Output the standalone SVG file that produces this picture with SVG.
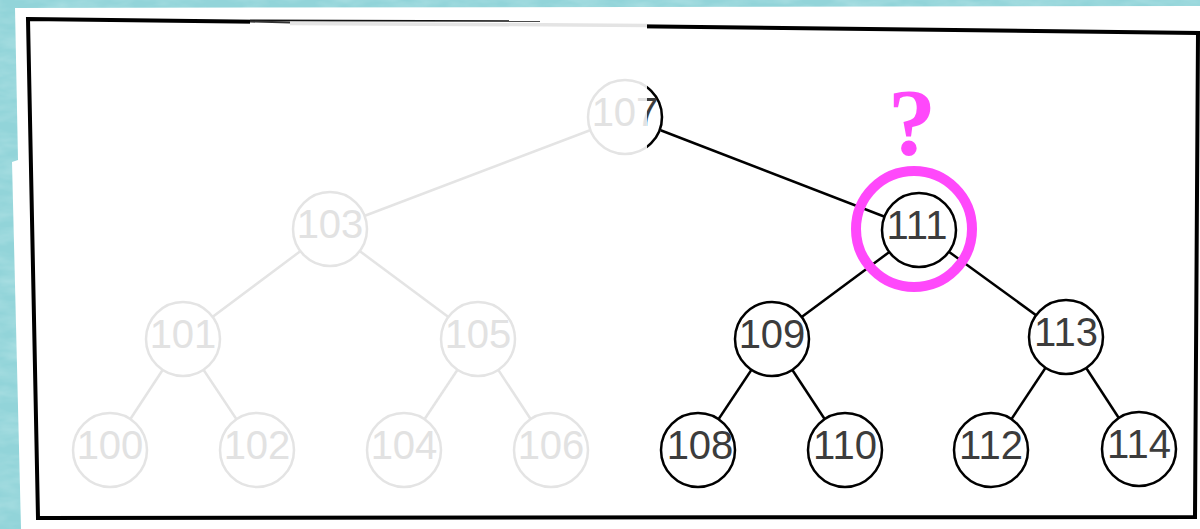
<svg xmlns="http://www.w3.org/2000/svg" width="1200" height="529" viewBox="0 0 1200 529">
  <defs>
    <filter id="tex" x="0" y="0" width="100%" height="100%">
      <feTurbulence type="fractalNoise" baseFrequency="0.03 0.09" numOctaves="3" seed="4" result="n"/>
      <feColorMatrix in="n" type="matrix" values="0 0 0 0 0.50  0 0 0 0 0.80  0 0 0 0 0.82  0 0 0 0.9 -0.3" result="c"/>
      <feComposite in="c" in2="SourceGraphic" operator="in"/>
    </filter>
    <clipPath id="rightHalf">
      <rect x="647" y="0" width="600" height="529"/>
    </clipPath>
    <style>
      .edge { stroke: #000; stroke-width: 2.5; fill: none; }
      .edge.faded { stroke: #e4e4e4; }
      .node circle { fill: #fff; stroke: #000; stroke-width: 2.5; }
      .node text { font-family: "Liberation Sans", Arial, sans-serif; font-size: 40px; fill: #3c3c3c; text-anchor: middle; }
      .faded circle { stroke: #e4e4e4; }
      .faded text { fill: #e2e2e2; }
      .pink { fill: none; stroke: #ff48fb; stroke-width: 10; }
    </style>
  </defs>

  <!-- textured teal background -->
  <rect x="0" y="0" width="1200" height="529" fill="#92d4d9"/>
  <rect x="0" y="0" width="1200" height="529" fill="#92d4d9" filter="url(#tex)"/>

  <!-- paper -->
  <polygon points="15,8 1200,6 1200,529 21,529 12,162 18,160" fill="#fff"/>

  <!-- frame -->
  <polygon points="28,19 1198,33 1195,517 38,518" fill="none" stroke="#000" stroke-width="4" stroke-linejoin="miter"/>
  <rect x="250" y="18" width="397" height="11" fill="#fff"/>
  <line x1="250" y1="20.4" x2="540" y2="21" stroke="#111" stroke-width="1.6"/>
  <line x1="250" y1="21.5" x2="290" y2="22.5" stroke="#333" stroke-width="2"/>
  <line x1="290" y1="23.4" x2="647" y2="25.4" stroke="#e4e4e4" stroke-width="3.5"/>

  <!-- connectors -->
  <g id="connectors">
    <line class="edge faded" x1="625" y1="117" x2="330" y2="229"/>
    <line class="edge" x1="647" y1="125" x2="919" y2="230"/>
    <line class="edge faded" x1="330" y1="229" x2="183" y2="339"/>
    <line class="edge faded" x1="330" y1="229" x2="478" y2="339"/>
    <line class="edge" x1="919" y1="230" x2="772" y2="339"/>
    <line class="edge" x1="919" y1="230" x2="1066" y2="337"/>
    <line class="edge faded" x1="183" y1="339" x2="110" y2="450"/>
    <line class="edge faded" x1="183" y1="339" x2="257" y2="450"/>
    <line class="edge faded" x1="478" y1="339" x2="404" y2="450"/>
    <line class="edge faded" x1="478" y1="339" x2="551" y2="450"/>
    <line class="edge" x1="772" y1="339" x2="698" y2="450"/>
    <line class="edge" x1="772" y1="339" x2="845" y2="450"/>
    <line class="edge" x1="1066" y1="337" x2="991" y2="450"/>
    <line class="edge" x1="1066" y1="337" x2="1139" y2="449"/>
  </g>

  <!-- nodes -->
  <g id="n107">
    <g class="node faded"><circle cx="625" cy="117" r="37"/><text x="625" y="126">107</text></g>
    <g class="node" clip-path="url(#rightHalf)"><circle cx="625" cy="117" r="37" style="fill:none"/><text x="625" y="126">107</text></g>
  </g>
  <g id="n103" class="node faded"><circle cx="330" cy="229" r="37"/><text x="330" y="238">103</text></g>
  <g id="n111" class="node"><circle cx="919" cy="230" r="37"/><text x="917" y="239">111</text></g>
  <g id="n101" class="node faded"><circle cx="183" cy="339" r="37"/><text x="183" y="348">101</text></g>
  <g id="n105" class="node faded"><circle cx="478" cy="339" r="37"/><text x="478" y="348">105</text></g>
  <g id="n109" class="node"><circle cx="772" cy="339" r="37"/><text x="772" y="348">109</text></g>
  <g id="n113" class="node"><circle cx="1066" cy="337" r="37"/><text x="1066" y="346">113</text></g>
  <g id="n100" class="node faded"><circle cx="110" cy="450" r="37"/><text x="110" y="459">100</text></g>
  <g id="n102" class="node faded"><circle cx="257" cy="450" r="37"/><text x="257" y="459">102</text></g>
  <g id="n104" class="node faded"><circle cx="404" cy="450" r="37"/><text x="404" y="459">104</text></g>
  <g id="n106" class="node faded"><circle cx="551" cy="450" r="37"/><text x="551" y="459">106</text></g>
  <g id="n108" class="node"><circle cx="698" cy="450" r="37"/><text x="700" y="459">108</text></g>
  <g id="n110" class="node"><circle cx="845" cy="450" r="37"/><text x="845" y="459">110</text></g>
  <g id="n112" class="node"><circle cx="991" cy="450" r="37"/><text x="991" y="459">112</text></g>
  <g id="n114" class="node"><circle cx="1139" cy="449" r="37"/><text x="1139" y="458">114</text></g>

  <!-- highlight -->
  <g id="highlight">
    <circle class="pink" cx="914" cy="229" r="58"/>
    <text x="912" y="155" font-family="'Liberation Serif', 'Times New Roman', serif" font-size="96" font-weight="bold" fill="#ff48fb" text-anchor="middle">?</text>
  </g>
</svg>
